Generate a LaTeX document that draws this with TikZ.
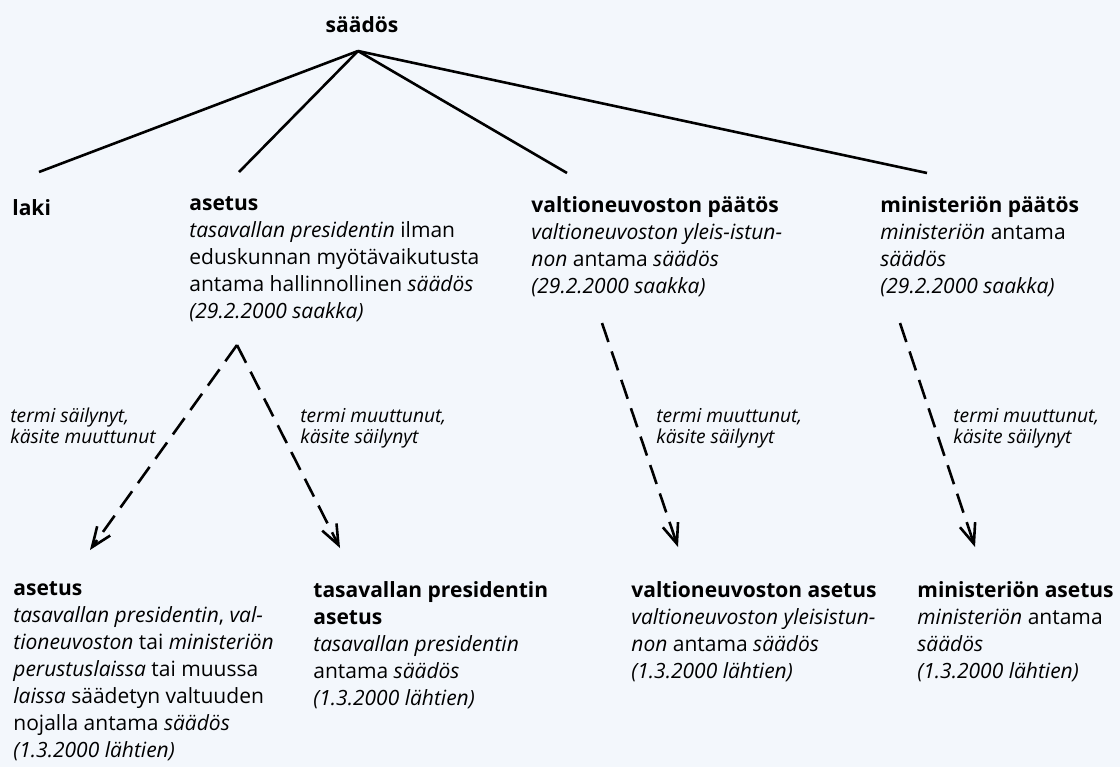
\documentclass[tikz,border=0pt]{standalone}
\usepackage{fontspec}
\setmainfont{Open Sans}
\usetikzlibrary{arrows.meta}
\definecolor{bgblue}{HTML}{F3F7FC}

\begin{document}
\begin{tikzpicture}[x=0.5pt,y=-0.5pt]
		\tikzset{term/.style = {anchor=north west, align=left, inner sep=0pt, font=\fontsize{10.5}{13.5}\selectfont, execute at begin node=\strut},
			note/.style = {anchor=north west, align=left, inner sep=0pt, font=\fontsize{9.6}{10.25}\selectfont\itshape, execute at begin node=\strut},
			branch/.style = {line width=1.3pt},
			change/.style = {line width=1.3pt, dash pattern=on 10pt off 5pt, -{Straight Barb[length=10pt,width=8pt]}}}

		\fill[bgblue] (0,0) rectangle (1120,767);

		\node[term, anchor=base, execute at begin node={}] (S) at (362,32) {\textbf{säädös}};

		% ylempi rivi, strut 18.9 yläpuolella peruslinjan
		\node[term] (A_1) at (12,196) {\textbf{laki}};
		\node[term] (A_2) at (189,196) {\textbf{asetus}\\ \textit{tasavallan presidentin} ilman\\ eduskunnan myötävaikutusta\\ antama hallinnollinen \textit{säädös}\\ \textit{(29.2.2000 saakka)}};
		\node[term] (A_3) at (531,196) {\textbf{valtioneuvoston päätös}\\ \textit{valtioneuvoston yleis-istun-}\\ \textit{non} antama \textit{säädös}\\ \textit{(29.2.2000 saakka)}};
		\node[term] (A_4) at (880,196) {\textbf{ministeriön päätös}\\ \textit{ministeriön} antama\\ \textit{säädös}\\ \textit{(29.2.2000 saakka)}};

		% alempi rivi
		\node[term] (B_1) at (13,581) {\textbf{asetus}\\ \textit{tasavallan presidentin}, \textit{val-}\\ \textit{tioneuvoston} tai \textit{ministeriön}\\ \textit{perustuslaissa} tai muussa\\ \textit{laissa} säädetyn valtuuden\\ nojalla antama \textit{säädös}\\ \textit{(1.3.2000 lähtien)}};
		\node[term] (B_2) at (313,581) {\textbf{tasavallan presidentin}\\ \textbf{asetus}\\ \textit{tasavallan presidentin}\\ antama \textit{säädös}\\ \textit{(1.3.2000 lähtien)}};
		\node[term] (B_3) at (631,581) {\textbf{valtioneuvoston asetus}\\ \textit{valtioneuvoston yleisistun-}\\ \textit{non} antama \textit{säädös}\\ \textit{(1.3.2000 lähtien)}};
		\node[term] (B_4) at (917,581) {\textbf{ministeriön asetus}\\ \textit{ministeriön} antama\\ \textit{säädös}\\ \textit{(1.3.2000 lähtien)}};

		\node[note] (N_1) at (10,408) {termi säilynyt,\\ käsite muuttunut};
		\node[note] (N_2) at (300,408) {termi muuttunut,\\ käsite säilynyt};
		\node[note] (N_3) at (656,408) {termi muuttunut,\\ käsite säilynyt};
		\node[note] (N_4) at (953,408) {termi muuttunut,\\ käsite säilynyt};

		\coordinate (S_0) at (358,51);
		\coordinate (a_1) at (39,172);
		\coordinate (a_2) at (239,172);
		\coordinate (a_3) at (567,173);
		\coordinate (a_4) at (927,173);

		\coordinate (s_2) at (237,345);
		\coordinate (s_3) at (602,323);
		\coordinate (s_4) at (900,323);
		\coordinate (b_1) at (90,550);
		\coordinate (b_2) at (340,548);
		\coordinate (b_3) at (678,547);
		\coordinate (b_4) at (975,547);

		\draw[branch] (S_0)--(a_1);
		\draw[branch] (S_0)--(a_2);
		\draw[branch] (S_0)--(a_3);
		\draw[branch] (S_0)--(a_4);

		\draw[change] (s_2)--(b_1);
		\draw[change] (s_2)--(b_2);
		\draw[change] (s_3)--(b_3);
		\draw[change] (s_4)--(b_4);

	\end{tikzpicture}
\end{document}
